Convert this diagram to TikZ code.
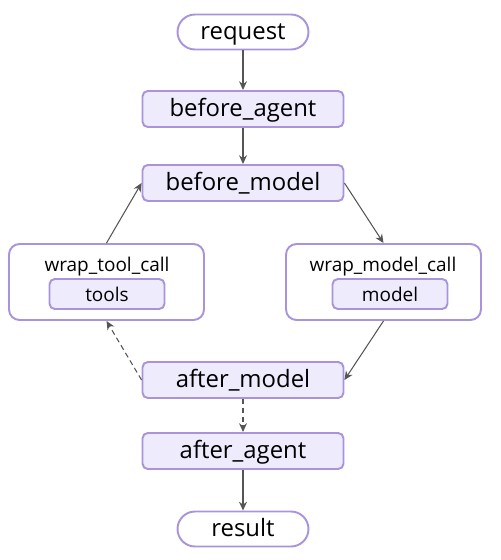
\documentclass[tikz,border=0pt]{standalone}
\usepackage{fontspec}
\setmainfont{Open Sans}
\usepackage{xcolor}
\usetikzlibrary{arrows.meta, positioning, fit, backgrounds, calc}

\definecolor{lavfill}{HTML}{EEEBFD}
\definecolor{lavdraw}{HTML}{A994DC}
\definecolor{edgegray}{HTML}{555555}

\begin{document}
\begin{tikzpicture}[
    x=0.02cm, y=-0.02cm,
    every node/.style={font=\fontsize{13.6}{15}\selectfont, text=black,
                       text height=1.75ex, text depth=0.15ex},
    hookbox/.style={rectangle, draw=lavdraw, fill=lavfill, line width=1.1pt,
                    rounded corners=3pt, inner sep=0pt, minimum width=4.02cm, minimum height=0.72cm},
    termbox/.style={rectangle, draw=lavdraw, fill=white, line width=1.1pt,
                    rounded corners=0.35cm, inner sep=0pt, minimum width=2.62cm, minimum height=0.7cm},
    wrapbox/.style={rectangle, draw=lavdraw, fill=white, line width=1.1pt,
                    rounded corners=6pt, inner sep=0pt, minimum width=3.9cm, minimum height=1.52cm},
    innerbox/.style={rectangle, draw=lavdraw, fill=lavfill, line width=1.1pt,
                     rounded corners=3pt, inner sep=0pt, minimum width=2.3cm, minimum height=0.6cm,
                     font=\fontsize{10.8}{12}\selectfont},
    lbl/.style={font=\fontsize{10.8}{12}\selectfont},
    arrow/.style={-{Stealth[length=5pt, width=4.5pt]}, line width=0.6pt, draw=edgegray},
    dasharrow/.style={arrow, dash pattern=on 3pt off 2pt}
]
\useasboundingbox (0,0) rectangle (500,560);

% === Main column ===
\node[termbox] (request) at (243, 32) {request};
\node[hookbox] (bagent) at (243, 109) {before\_agent};
\node[hookbox] (bmodel) at (243, 183) {before\_model};
\node[hookbox] (amodel) at (243, 380) {after\_model};
\node[hookbox] (aagent) at (243, 451) {after\_agent};
\node[termbox] (result) at (243, 529) {result};

% === Wrappers ===
\node[wrapbox] (wtool) at (106.5, 282) {};
\node[lbl] (wtooltitle) at (107, 264) {wrap\_tool\_call};
\node[innerbox] (tools) at (107, 294) {tools};

\node[wrapbox] (wmodel) at (383.5, 282) {};
\node[lbl] (wmodeltitle) at (383, 264) {wrap\_model\_call};
\node[innerbox] (model) at (390, 294) {model};

% === Edges ===
\draw[arrow] (request) -- (bagent);
\draw[arrow] (bagent) -- (bmodel);
\draw[arrow] (bmodel.east) -- (wmodel.north);
\draw[arrow] (wmodel.south) -- (amodel.east);
\draw[dasharrow] (amodel.west) -- (wtool.south);
\draw[arrow] (wtool.north) -- (bmodel.west);
\draw[dasharrow] (amodel) -- (aagent);
\draw[arrow] (aagent) -- (result);

\end{tikzpicture}
\end{document}
